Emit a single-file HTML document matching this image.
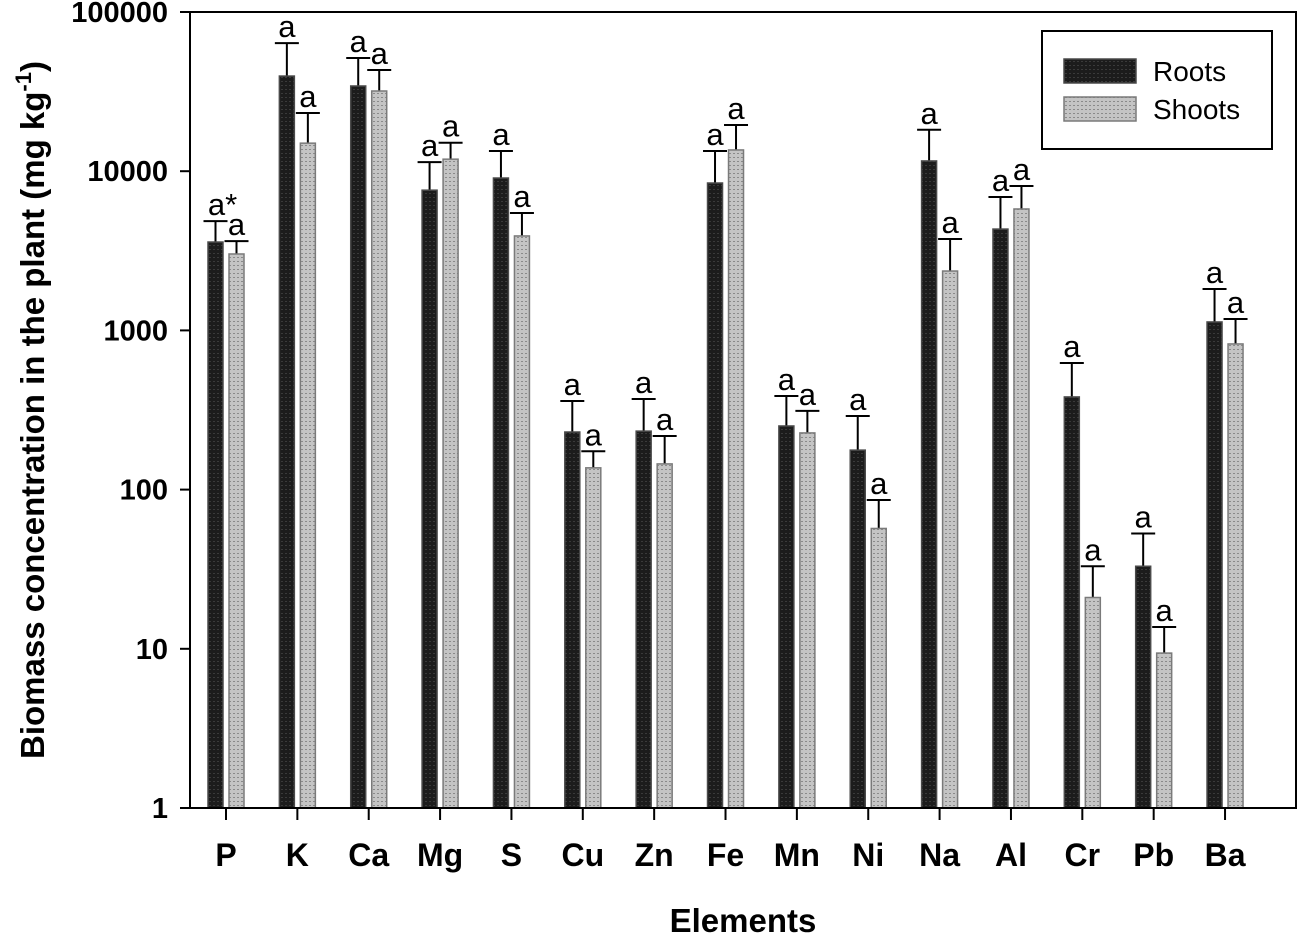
<!DOCTYPE html>
<html><head><meta charset="utf-8"><style>
body{margin:0;background:#fff;}
svg text{font-family:"Liberation Sans",Arial,sans-serif;}
</style></head><body>
<svg id="chart" width="1299" height="937" viewBox="0 0 1299 937" xmlns="http://www.w3.org/2000/svg">
<defs>
<pattern id="pr" width="4" height="4" patternUnits="userSpaceOnUse"><rect width="4" height="4" fill="#1c1c1c"/><rect x="1" y="1" width="2" height="1" fill="#3a3a3a"/></pattern>
<pattern id="ps" width="4" height="4" patternUnits="userSpaceOnUse"><rect width="4" height="4" fill="#c4c4c4"/><rect x="1" y="1" width="2" height="1" fill="#8a8a8a"/></pattern>
</defs>
<g id="plot"></g>
</svg>
<script>
const categories=["P","K","Ca","Mg","S","Cu","Zn","Fe","Mn","Ni","Na","Al","Cr","Pb","Ba"];
const rootsValues=[3590,39600,34300,7600,9060,230,233,8430,251,177,11600,4330,382,33,1130];
const rootsErrTop=[4860,63800,51400,11400,13400,360,371,13400,387,290,18200,6890,624,53,1820];
const shootsValues=[3020,15000,31900,11900,3920,137,145,13600,227,57,2360,5790,21,9.4,822];
const shootsErrTop=[3640,23200,43200,15100,5460,174,217,19500,312,86,3750,8070,33,13.7,1180];
const rootsLetters=["a*","a","a","a","a","a","a","a","a","a","a","a","a","a","a"];
const shootsLetters=["a","a","a","a","a","a","a","a","a","a","a","a","a","a","a"];
const yTicks=[1,10,100,1000,10000,100000];
const yTickLabels=["1","10","100","1000","10000","100000"];

const NS="http://www.w3.org/2000/svg";
const g=document.getElementById('plot');
const L=190,R=1296,T=12,B=808;
const x0=226,step=71.36;
function y(v){return B-(B-T)*Math.log10(v)/5;}
function xc(i){return x0+step*i;}
function mk(tag,attrs,parent){const e=document.createElementNS(NS,tag);for(const k in attrs)e.setAttribute(k,attrs[k]);(parent||g).appendChild(e);return e;}

categories.forEach((c,i)=>{
  [[rootsValues,rootsErrTop,rootsLetters,-18,'url(#pr)','#4a4a4a','roots'],[shootsValues,shootsErrTop,shootsLetters,3,'url(#ps)','#7a7a7a','shoots']].forEach(s=>{
    const bx=xc(i)+s[3],cx=bx+7.5,top=y(s[0][i]),cap=y(s[1][i]);
    const ln=mk('line',{x1:cx,x2:cx,y1:top,y2:cap,stroke:'#000','stroke-width':2});
    
    
    const cp=mk('line',{x1:cx-12,x2:cx+12,y1:cap,y2:cap,stroke:'#000','stroke-width':2});
    
    
    const r=mk('rect',{x:bx,y:top,width:15,height:B-top,fill:s[4],stroke:s[5],'stroke-width':1.5});
    
    
    const t=mk('text',{x:s[2][i]==='a*'?cx+7:cx,y:cap-6,'font-size':31,'text-anchor':'middle'});
    t.textContent=s[2][i];
    
    
  });
  const tk=mk('line',{x1:xc(i),x2:xc(i),y1:B,y2:B+12,stroke:'#000','stroke-width':2});
  
  
  const tl=mk('text',{x:xc(i),y:866,'font-size':32,'font-weight':'bold','text-anchor':'middle'});
  tl.textContent=c;
  
  
});
yTicks.forEach((v,i)=>{
  const tk=mk('line',{x1:180,x2:L,y1:y(v),y2:y(v),stroke:'#000','stroke-width':2});
  
  
  const tl=mk('text',{x:168,y:y(v)+10,'font-size':29,'font-weight':'bold','text-anchor':'end'});
  tl.textContent=yTickLabels[i];
  
  
});
const frame=mk('rect',{x:L,y:T,width:R-L,height:B-T,fill:'none',stroke:'#000','stroke-width':2});


</script>
<svg style="position:absolute;left:0;top:0" width="1299" height="937">
<g>
<rect x="1042" y="31" width="230" height="118" fill="#fff" stroke="#000" stroke-width="2"/>
<rect x="1064" y="59" width="72" height="24" fill="url(#pr)" stroke="#4a4a4a" stroke-width="1.5"/>
<rect x="1064" y="97" width="72" height="24" fill="url(#ps)" stroke="#7a7a7a" stroke-width="1.5"/>
<text x="1153" y="81" font-size="28" font-family="Liberation Sans, sans-serif">Roots</text>
<text x="1153" y="119" font-size="28" font-family="Liberation Sans, sans-serif">Shoots</text>
</g>
<text x="743" y="932" font-size="33" font-weight="bold" text-anchor="middle" font-family="Liberation Sans, sans-serif">Elements</text>
<text transform="translate(44,410) rotate(-90)" font-size="33" font-weight="bold" text-anchor="middle" font-family="Liberation Sans, sans-serif">Biomass concentration in the plant  (mg kg<tspan font-size="22" dy="-13">-1</tspan><tspan dy="13">)</tspan></text>
</svg>
</body></html>
